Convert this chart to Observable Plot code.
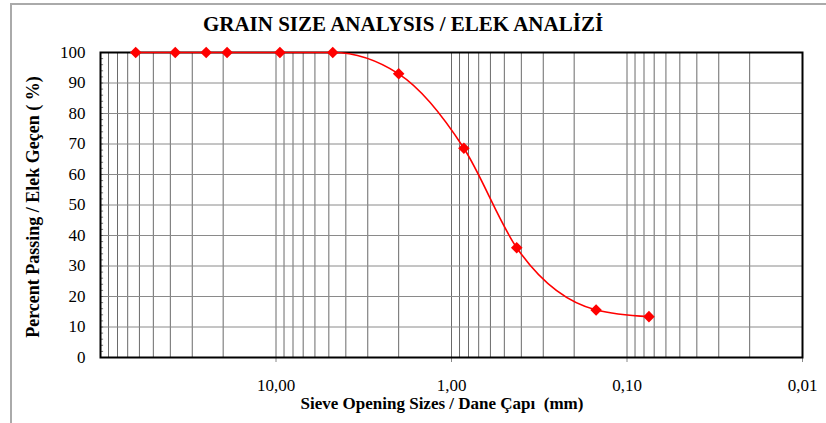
<!DOCTYPE html>
<html>
<head>
<meta charset="utf-8">
<script src="https://cdn.jsdelivr.net/npm/d3@7"></script>
<script src="https://cdn.jsdelivr.net/npm/@observablehq/plot@0.6"></script>
<style>
  html, body { margin: 0; padding: 0; background: #fff; overflow: hidden; }
  #wrap { position: relative; width: 826px; height: 423px; }
  .serif { font-family: "Liberation Serif", "Times New Roman", Tinos, "DejaVu Serif", serif; }
  #frame { position: absolute; left: 10px; top: 3px; width: 830px; height: 430px; border-left: 2px solid #aaa; border-top: 2px solid #aaa; }
  #title { position: absolute; left: 403px; top: 12px; transform: translateX(-50%); white-space: nowrap; font-weight: bold; font-size: 21px; letter-spacing: 0; }
  #ylab { position: absolute; left: 33px; top: 207px; transform: translate(-50%, -50%) rotate(-90deg); white-space: nowrap; font-weight: bold; font-size: 18px; }
  #xlab { position: absolute; left: 442px; top: 394px; transform: translateX(-50%); white-space: nowrap; font-weight: bold; font-size: 17px; }
  #chart { position: absolute; left: 0; top: 0; }
</style>
</head>
<body>
<div id="wrap">
  <div id="frame"></div>
  <div id="chart"></div>
  <div id="title" class="serif">GRAIN SIZE ANALYSIS / ELEK ANALİZİ</div>
  <div id="ylab" class="serif">Percent Passing / Elek Geçen ( %)</div>
  <div id="xlab" class="serif">Sieve Opening Sizes / Dane Çapı &nbsp;(mm)</div>
</div>
<script>
// Sieve sizes (mm) and percent passing
const sieveSizes = [63, 37.5, 25, 19, 9.5, 4.75, 2, 0.85, 0.425, 0.15, 0.075];
const percentPassing = [100, 100, 100, 100, 100, 100, 93, 68.6, 36, 15.6, 13.4];
const xTickValues = [10, 1, 0.1, 0.01];
const xTickLabels = ["10,00", "1,00", "0,10", "0,01"];
const yTickValues = [0, 10, 20, 30, 40, 50, 60, 70, 80, 90, 100];
const yMinorTicks = d3.range(0, 101, 2);
const gridDecades = [10, 1, 0.1, 0.01];
const gridMultipliers = [1, 2, 3, 4, 5, 6, 7, 8, 9];

const data = sieveSizes.map((s, i) => ({size: s, pass: percentPassing[i]}));
const xGrid = [];
for (const d of gridDecades) for (const m of gridMultipliers) xGrid.push(d * m);

const serif = "Liberation Serif, Times New Roman, Tinos, DejaVu Serif, serif";
const chart = Plot.plot({
  width: 826,
  height: 423,
  marginLeft: 100,
  marginRight: 24,
  marginTop: 52,
  marginBottom: 66,
  style: {fontFamily: serif, fontSize: "17px", color: "#000", background: "transparent"},
  x: {type: "log", domain: [100, 0.01]},
  y: {domain: [0, 100]},
  marks: [
    Plot.ruleX(xGrid, {stroke: "#6a6a6a", strokeWidth: 1}),
    Plot.ruleY(yTickValues, {stroke: "#8a8a8a", strokeWidth: 1}),
    Plot.ruleY(yMinorTicks, {x1: 100, x2: 96, stroke: "#555", strokeWidth: 0.8}),
    Plot.axisX({ticks: xTickValues, tickFormat: (d) => xTickLabels[xTickValues.indexOf(d)], tickSize: 5, tickPadding: 16, label: null, fontSize: 17, fontFamily: serif, stroke: "#888"}),
    Plot.axisY({ticks: yTickValues, tickSize: 0, tickPadding: 15, label: null, fontSize: 17, fontFamily: serif}),
    Plot.frame({stroke: "#000", strokeWidth: 2}),
    Plot.line(data, {x: "size", y: "pass", stroke: "#ff0000", strokeWidth: 1.6, curve: "monotone-x"}),
    Plot.dot(data, {x: "size", y: "pass", symbol: "square", rotate: 45, fill: "#ff0000", r: 4.6})
  ]
});
document.getElementById("chart").appendChild(chart);
</script>
</body>
</html>
